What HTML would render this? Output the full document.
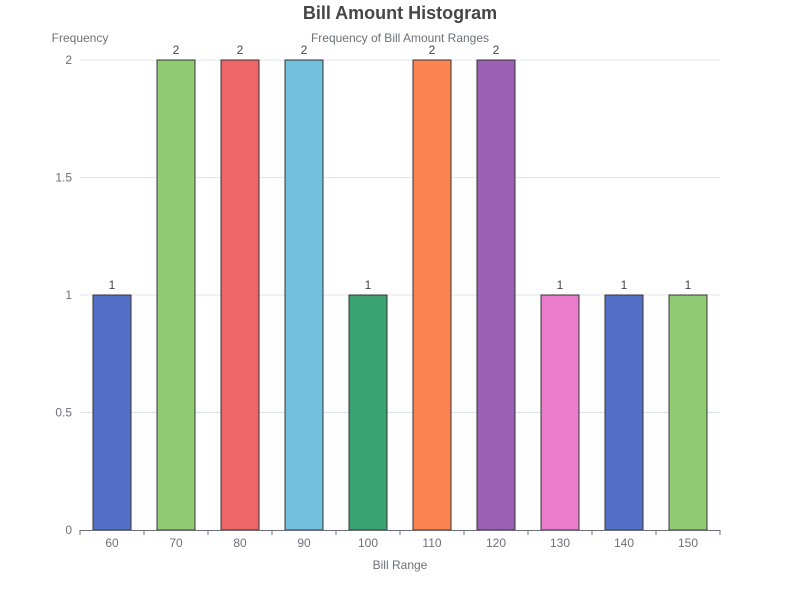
<!DOCTYPE html>
<html><head><meta charset="utf-8"><style>
body{margin:0;background:#fff;font-family:"Liberation Sans",sans-serif}
</style></head><body>
<svg id="c" width="800" height="600" xmlns="http://www.w3.org/2000/svg">
<text x="400" y="19" text-anchor="middle" font-size="18" font-weight="bold" fill="#464646">Bill Amount Histogram</text>
<text x="400" y="42" text-anchor="middle" font-size="12" fill="#6e7079">Frequency of Bill Amount Ranges</text>
<text x="80" y="42" text-anchor="middle" font-size="12" fill="#6e7079">Frequency</text>
<text x="400" y="569" text-anchor="middle" font-size="12" fill="#6e7079">Bill Range</text>
<g id="grid"></g><g id="bars"></g><g id="axes"></g>
</svg>
<script>
const categories=["60","70","80","90","100","110","120","130","140","150"];
const values=[1,2,2,2,1,2,2,1,1,1];
const yTicks=[0,0.5,1,1.5,2];
const colors=["#5470c6","#91cc75","#ee6666","#73c0de","#3ba272","#fc8452","#9a60b4","#ea7ccc","#5470c6","#91cc75"];
const NS="http://www.w3.org/2000/svg";
const L=80,R=720,T=60,B=530,yMax=2;
const band=(R-L)/categories.length;
const y=v=>B-(v/yMax)*(B-T);
const xc=i=>L+band*(i+0.5);
function mk(t,a,p){const e=document.createElementNS(NS,t);for(const k in a)e.setAttribute(k,a[k]);p.appendChild(e);return e;}
const grid=document.getElementById('grid'),bars=document.getElementById('bars'),axes=document.getElementById('axes');
yTicks.forEach(t=>{
 if(t>0){const g=mk('line',{x1:L,x2:R,y1:y(t),y2:y(t),stroke:'#e0e6f1'},grid);
 
 }
 const l=mk('text',{x:L-8,y:y(t)+4,'text-anchor':'end','font-size':12,fill:'#6e7079'},axes);
 l.textContent=t;
 
 
});
const ax=mk('line',{x1:L,x2:R,y1:B+0.5,y2:B+0.5,stroke:'#6e7079'},axes);


for(let i=0;i<=categories.length;i++){
 const tk=mk('line',{x1:L+band*i,x2:L+band*i,y1:B,y2:B+5,stroke:'#6e7079'},axes);
 
 
}
const bw=38;
categories.forEach((c,i)=>{
 const v=values[i];
 const r=mk('rect',{x:xc(i)-bw/2,y:y(v),width:bw,height:B-y(v),fill:colors[i],stroke:'#333','stroke-width':1},bars);
 
 
 const vl=mk('text',{x:xc(i),y:y(v)-6,'text-anchor':'middle','font-size':12,fill:'#464646'},bars);
 vl.textContent=v;
 
 
 const xl=mk('text',{x:xc(i),y:B+17,'text-anchor':'middle','font-size':12,fill:'#6e7079'},axes);
 xl.textContent=c;
 
 
});
</script>
</body></html>
